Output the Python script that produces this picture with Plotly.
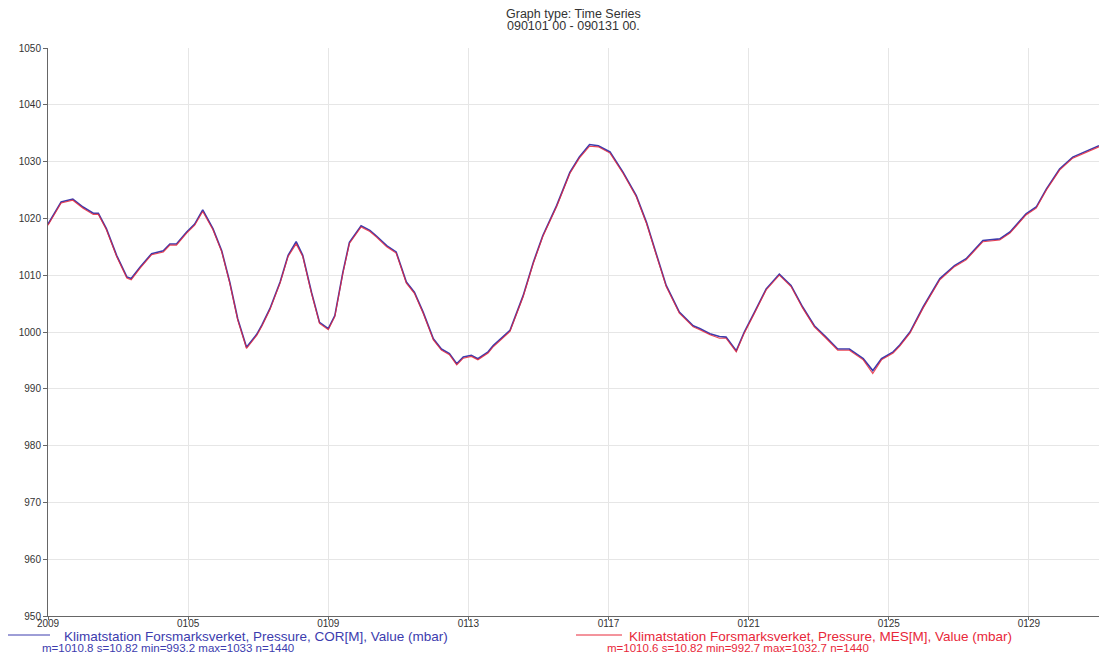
import pandas as pd
import plotly.graph_objects as go

# hours since 2009-01-01 00:00
hours = [0, 9, 17, 24, 31, 34.5, 40, 47, 54, 57, 63, 71, 79, 83.5, 88, 95, 100.5, 106, 113, 119,
         124.5, 130, 136, 143, 146.5, 152, 159, 164.5, 170, 174.5, 180.5, 186, 192, 196.5, 202,
         206.5, 214.5, 220.5, 225, 232, 238.5, 245.5, 251, 257, 264, 269.5, 275, 280, 284.5, 290,
         294.5, 301.5, 305, 316.5, 325.5, 332.5, 339, 348.5, 357.5, 364, 371, 377, 385, 394, 403,
         410, 417, 423.5, 432.5, 442, 446.5, 453.5, 460, 464.5, 471.5, 477, 484, 492, 501, 509,
         517, 525, 533, 541, 549, 558.5, 565, 571, 579, 583.5, 590.5, 599.5, 611, 621, 629, 640.5,
         652, 659, 670, 677, 684, 693, 702, 711.5, 720]

mes = [1018.8, 1022.7, 1023.2, 1021.8, 1020.7, 1020.7, 1018.0, 1013.3, 1009.5, 1009.2, 1011.2,
       1013.6, 1014.1, 1015.3, 1015.3, 1017.4, 1018.8, 1021.2, 1018.0, 1014.1, 1008.6, 1002.1,
       997.1, 999.4, 1001.0, 1003.9, 1008.6, 1013.3, 1015.5, 1013.3, 1006.8, 1001.5, 1000.4,
       1002.7, 1010.3, 1015.6, 1018.5, 1017.7, 1016.7, 1015.0, 1013.9, 1008.6, 1006.8, 1003.3,
       998.6, 996.8, 996.0, 994.2, 995.4, 995.7, 995.1, 996.3, 997.4, 1000.1, 1006.2, 1012.1,
       1016.8, 1022.1, 1027.9, 1030.6, 1032.7, 1032.6, 1031.5, 1027.9, 1023.8, 1019.1, 1013.3,
       1008.0, 1003.3, 1000.9, 1000.4, 999.5, 998.9, 998.9, 996.5, 999.8, 1003.3, 1007.4, 1010.0,
       1008.0, 1004.2, 1000.9, 998.9, 996.8, 996.8, 995.1, 992.7, 995.1, 996.3, 997.5, 999.8,
       1004.2, 1009.2, 1011.5, 1012.7, 1015.9, 1016.2, 1017.4, 1020.6, 1021.8, 1025.0, 1028.5,
       1030.6, 1031.7, 1032.6]

cor = [1019.0, 1022.9, 1023.4, 1022.0, 1020.9, 1020.9, 1018.2, 1013.5, 1009.7, 1009.4, 1011.4,
       1013.8, 1014.3, 1015.5, 1015.5, 1017.6, 1019.0, 1021.5, 1018.2, 1014.3, 1008.8, 1002.3,
       997.3, 999.6, 1001.2, 1004.1, 1008.8, 1013.5, 1015.9, 1013.5, 1007.0, 1001.7, 1000.6,
       1002.9, 1010.5, 1015.8, 1018.7, 1017.9, 1016.9, 1015.2, 1014.1, 1008.8, 1007.0, 1003.5,
       998.8, 997.0, 996.2, 994.4, 995.6, 995.9, 995.3, 996.5, 997.6, 1000.3, 1006.4, 1012.3,
       1017.0, 1022.3, 1028.1, 1030.8, 1033.0, 1032.8, 1031.7, 1028.1, 1024.0, 1019.3, 1013.5,
       1008.2, 1003.5, 1001.1, 1000.6, 999.7, 999.2, 999.1, 996.7, 1000.0, 1003.5, 1007.6, 1010.2,
       1008.2, 1004.4, 1001.1, 999.1, 997.0, 997.0, 995.3, 993.2, 995.3, 996.5, 997.7, 1000.0,
       1004.4, 1009.4, 1011.7, 1012.9, 1016.1, 1016.4, 1017.6, 1020.8, 1022.0, 1025.2, 1028.7,
       1030.8, 1031.9, 1032.8]

tick_dates = ["2009-01-01", "2009-01-05", "2009-01-09", "2009-01-13", "2009-01-17",
              "2009-01-21", "2009-01-25", "2009-01-29"]
tick_text = ["2009", "0105", "0109", "0113", "0117", "0121", "0125", "0129"]
y_ticks = [950, 960, 970, 980, 990, 1000, 1010, 1020, 1030, 1040, 1050]

cor_name = "Klimatstation Forsmarksverket, Pressure, COR[M], Value (mbar)"
cor_stats = "m=1010.8 s=10.82 min=993.2 max=1033 n=1440"
mes_name = "Klimatstation Forsmarksverket, Pressure, MES[M], Value (mbar)"
mes_stats = "m=1010.6 s=10.82 min=992.7 max=1032.7 n=1440"

t0 = pd.Timestamp("2009-01-01")
times = [t0 + pd.Timedelta(hours=h) for h in hours]

BLUE = "#3c3cae"
RED = "#e8283a"
FONT = "Liberation Sans, Arial, sans-serif"

fig = go.Figure()
fig.add_trace(go.Scatter(x=times, y=cor, mode="lines", name=cor_name,
                         line=dict(color=BLUE, width=1.6), showlegend=False))
fig.add_trace(go.Scatter(x=times, y=mes, mode="lines", name=mes_name,
                         line=dict(color=RED, width=1.1), opacity=0.85, showlegend=False))

W, H = 1099, 660
PL, PT, PR, PB = 48, 48, 1099, 616          # plot area in window pixels
L, T, R, B = PL, PT, W - PR, H - PB
pw, ph = PR - PL, PB - PT


def px(xp):
    return (xp - PL) / pw


def py(yp):
    return (PB - yp) / ph


annotations = []
for txt, yy in [("Graph type: Time Series", 14), ("090101 00 - 090131 00.", 26)]:
    annotations.append(dict(text=txt, x=0.5, y=py(yy), xref="paper", yref="paper",
                            showarrow=False, xanchor="center", yanchor="middle",
                            font=dict(family=FONT, size=12.5, color="#333333")))
legend_txt = [
    (cor_name, px(62), py(636), BLUE, 13.5),
    (cor_stats, px(40), py(648), BLUE, 11.5),
    (mes_name, px(627), py(636), RED, 13.5),
    (mes_stats, px(605), py(648), RED, 11.5),
]
for txt, x, y, c, s in legend_txt:
    annotations.append(dict(text=txt, x=x, y=y, xref="paper", yref="paper", showarrow=False,
                            xanchor="left", yanchor="middle",
                            font=dict(family=FONT, size=s, color=c)))

shapes = [
    dict(type="line", xref="paper", yref="paper", x0=px(8), x1=px(50), y0=py(635), y1=py(635),
         line=dict(color=BLUE, width=1)),
    dict(type="line", xref="paper", yref="paper", x0=px(576), x1=px(622), y0=py(635), y1=py(635),
         line=dict(color=RED, width=1)),
]

fig.update_layout(
    width=W, height=H,
    margin=dict(l=L, r=R, t=T, b=B, autoexpand=False),
    paper_bgcolor="white", plot_bgcolor="white",
    font=dict(family=FONT, size=10, color="#333333"),
    annotations=annotations, shapes=shapes,
)
fig.update_xaxes(range=[t0, t0 + pd.Timedelta(hours=720)], tickvals=tick_dates, ticktext=tick_text,
                 showgrid=True, gridcolor="#e6e6e6", gridwidth=1,
                 showline=True, linecolor="#666666", linewidth=1,
                 ticks="outside", ticklen=3, tickcolor="#666666", ticklabelstandoff=-5,
                 tickfont=dict(family=FONT, size=10, color="#333333"), zeroline=False)
fig.update_yaxes(range=[950, 1050], tickvals=y_ticks,
                 showgrid=True, gridcolor="#e6e6e6", gridwidth=1,
                 showline=True, linecolor="#666666", linewidth=1,
                 ticks="outside", ticklen=4, tickcolor="#666666",
                 tickfont=dict(family=FONT, size=10, color="#333333"), zeroline=False)

fig.write_html("out.html", config={"displayModeBar": False},
               post_script="document.body.style.margin='0';document.body.style.overflow='hidden';")
